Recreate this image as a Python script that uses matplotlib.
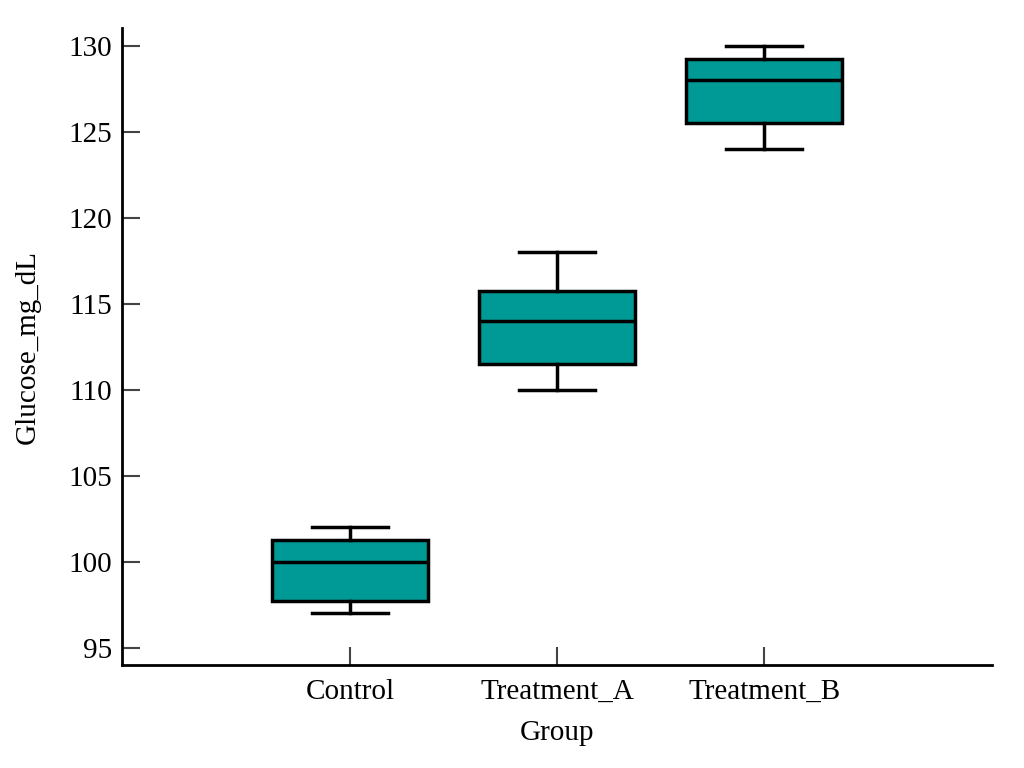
import matplotlib
matplotlib.use("Agg")
import matplotlib.pyplot as plt

# Box statistics
groups = ["Control", "Treatment_A", "Treatment_B"]
whisker_lo = [97, 110, 124]
q1 = [97.75, 111.5, 125.5]
medians = [100, 114, 128]
q3 = [101.25, 115.75, 129.25]
whisker_hi = [102, 118, 130]

plt.rcParams['font.family'] = ['Liberation Serif', 'DejaVu Serif']

stats = []
for i, g in enumerate(groups):
    stats.append({"label": g, "whislo": whisker_lo[i], "q1": q1[i], "med": medians[i],
                  "q3": q3[i], "whishi": whisker_hi[i], "fliers": []})

fig = plt.figure(figsize=(10.24, 7.68), dpi=100)
ax = fig.add_axes([122 / 1024, 1 - 665 / 768, 870 / 1024, 637 / 768])

lw = 2.5
ax.bxp(stats, positions=[0, 1, 2], widths=0.755, capwidths=0.37, patch_artist=True,
       showfliers=False,
       boxprops=dict(facecolor="#009a96", edgecolor="black", linewidth=lw),
       medianprops=dict(color="black", linewidth=lw),
       whiskerprops=dict(color="black", linewidth=lw),
       capprops=dict(color="black", linewidth=lw))

ax.set_xlim(-1.1, 3.1)
ax.set_ylim(94.0, 131.05)
ax.set_yticks([95, 100, 105, 110, 115, 120, 125, 130])
ax.set_xticks([0, 1, 2])
ax.set_xticklabels(groups)

for s in ["top", "right"]:
    ax.spines[s].set_visible(False)
for s in ["left", "bottom"]:
    ax.spines[s].set_linewidth(2)

ax.tick_params(direction="in", length=13, width=1.5, color="#444444", labelsize=21, pad=7)
ax.tick_params(axis="x", pad=10)
ax.set_xlabel("Group", fontsize=21, labelpad=11)
ax.set_ylabel("Glucose_mg_dL", fontsize=21, labelpad=20)

fig.savefig("out.png", dpi=100)
